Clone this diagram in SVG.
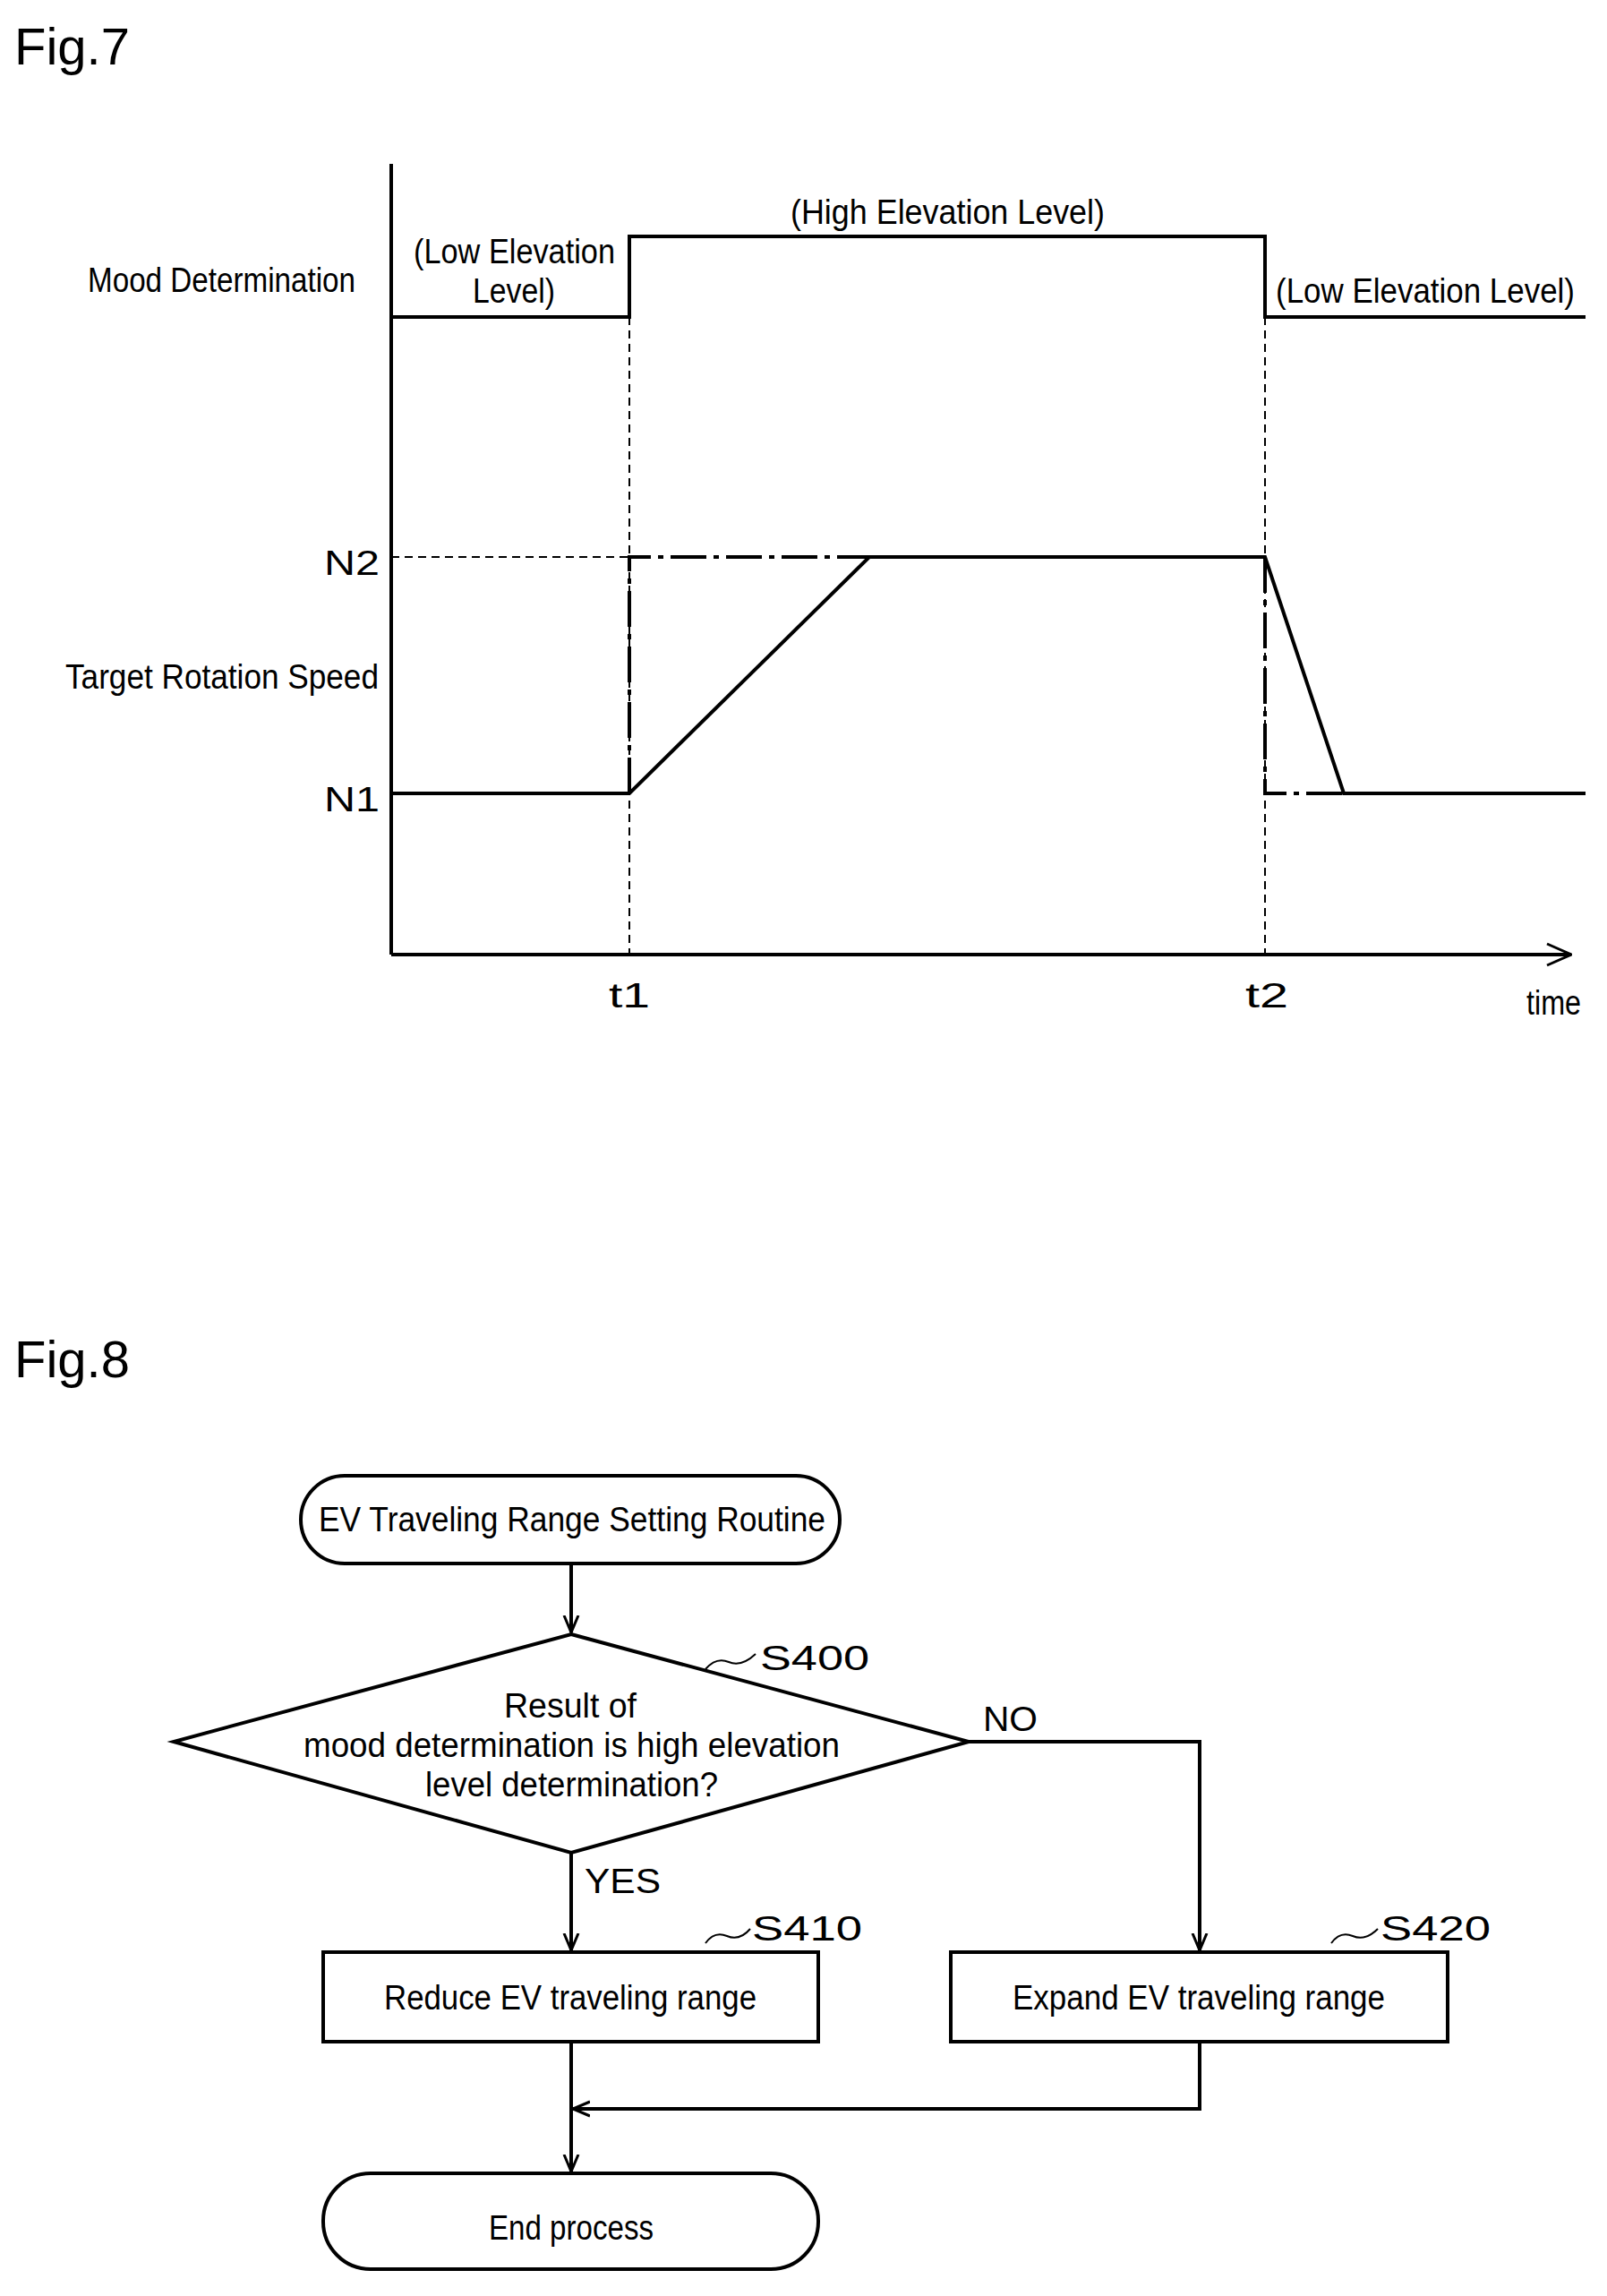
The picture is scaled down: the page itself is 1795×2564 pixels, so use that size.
<svg xmlns="http://www.w3.org/2000/svg" width="1795" height="2564" viewBox="0 0 1795 2564">
<style>
.t{font-family:"Liberation Sans",Arial,sans-serif;fill:#000}
.c{font-family:"Liberation Sans Narrow","Liberation Sans",Arial,sans-serif;fill:#000;font-size:38px}
.ln{stroke:#000;stroke-width:4;fill:none}
.th{stroke:#000;stroke-width:2;fill:none}
.ds{stroke:#000;stroke-width:2;fill:none;stroke-dasharray:9 6}
.dd{stroke:#000;stroke-width:4;fill:none;stroke-dasharray:40 8 6 8}
</style>
<defs>
<marker id="a" viewBox="0 0 20 20" refX="19" refY="10" markerWidth="20" markerHeight="20" markerUnits="userSpaceOnUse" orient="auto">
<polyline points="0,2 19,10 0,18" fill="none" stroke="#000" stroke-width="3"/>
</marker>
<marker id="b" viewBox="0 0 30 30" refX="29" refY="15" markerWidth="30" markerHeight="30" markerUnits="userSpaceOnUse" orient="auto">
<polyline points="2,3 29,15 2,27" fill="none" stroke="#000" stroke-width="3"/>
</marker>
</defs>
<rect width="1795" height="2564" fill="#fff"/>
<g id="fig7">
<text class="t" x="16" y="72" font-size="58">Fig.7</text>
<line class="ln" x1="437" y1="183" x2="437" y2="1066"/>
<line class="ln" x1="437" y1="1066" x2="1755" y2="1066" marker-end="url(#b)"/>
<polyline class="ln" points="437,354 703,354 703,264 1413,264 1413,354 1771,354"/>
<line class="ds" x1="703" y1="264" x2="703" y2="1066"/>
<line class="ds" x1="1413" y1="354" x2="1413" y2="1066"/>
<line class="ds" x1="437" y1="622" x2="703" y2="622"/>
<polyline class="dd" points="703,886 703,622 971,622"/>
<polyline class="dd" points="1413,622 1413,886 1501,886"/>
<polyline class="ln" points="437,886 703,886 971,622 1413,622 1501,886 1771,886"/>
<text class="c" x="98" y="326" textLength="299" lengthAdjust="spacingAndGlyphs">Mood Determination</text>
<text class="c" x="462" y="294" textLength="225" lengthAdjust="spacingAndGlyphs">(Low Elevation</text>
<text class="c" x="528" y="338" textLength="92" lengthAdjust="spacingAndGlyphs">Level)</text>
<text class="c" x="883" y="250" textLength="351" lengthAdjust="spacingAndGlyphs">(High Elevation Level)</text>
<text class="c" x="1425" y="338" textLength="334" lengthAdjust="spacingAndGlyphs">(Low Elevation Level)</text>
<text class="c" x="73" y="769" textLength="350" lengthAdjust="spacingAndGlyphs">Target Rotation Speed</text>
<text class="c" x="362" y="642" font-size="50" textLength="62" lengthAdjust="spacingAndGlyphs">N2</text>
<text class="c" x="362" y="906" font-size="50" textLength="62" lengthAdjust="spacingAndGlyphs">N1</text>
<text class="c" x="680" y="1125" font-size="50" textLength="46" lengthAdjust="spacingAndGlyphs">t1</text>
<text class="c" x="1391" y="1125" font-size="50" textLength="48" lengthAdjust="spacingAndGlyphs">t2</text>
<text class="c" x="1705" y="1133" textLength="61" lengthAdjust="spacingAndGlyphs">time</text>
</g>
<text class="t" x="16" y="1538" font-size="58">Fig.8</text>
<g id="start">
<rect class="ln" x="336" y="1648" width="602" height="98" rx="49"/>
<text class="c" x="356" y="1710" textLength="566" lengthAdjust="spacingAndGlyphs">EV Traveling Range Setting Routine</text>
</g>
<g id="s400">
<polygon class="ln" points="638,1825 1082,1945 638,2069 194,1945"/>
<text class="c" x="563" y="1918" textLength="148" lengthAdjust="spacingAndGlyphs">Result of</text>
<text class="c" x="339" y="1962" textLength="599" lengthAdjust="spacingAndGlyphs">mood determination is high elevation</text>
<text class="c" x="475" y="2006" textLength="327" lengthAdjust="spacingAndGlyphs">level determination?</text>
<path class="th" d="M788,1864 q12,-14 26,-8 q14,6 30,-9"/>
<text class="c" x="849" y="1865" font-size="48" textLength="122" lengthAdjust="spacingAndGlyphs">S400</text>
</g>
<g id="s410">
<rect class="ln" x="361" y="2180" width="553" height="100"/>
<text class="c" x="429" y="2244" textLength="416" lengthAdjust="spacingAndGlyphs">Reduce EV traveling range</text>
<path class="th" d="M788,2170 q10,-14 24,-8 q14,6 26,-8"/>
<text class="c" x="840" y="2167" font-size="48" textLength="123" lengthAdjust="spacingAndGlyphs">S410</text>
</g>
<g id="s420">
<rect class="ln" x="1062" y="2180" width="555" height="100"/>
<text class="c" x="1131" y="2244" textLength="416" lengthAdjust="spacingAndGlyphs">Expand EV traveling range</text>
<path class="th" d="M1487,2170 q10,-14 24,-8 q14,6 28,-8"/>
<text class="c" x="1542" y="2167" font-size="48" textLength="123" lengthAdjust="spacingAndGlyphs">S420</text>
</g>
<g id="end">
<rect class="ln" x="361" y="2427" width="553" height="107" rx="53"/>
<text class="c" x="546" y="2501" textLength="184" lengthAdjust="spacingAndGlyphs">End process</text>
</g>
<g id="connectors">
<line class="ln" x1="638" y1="1746" x2="638" y2="1823" marker-end="url(#a)"/>
<line class="ln" x1="638" y1="2069" x2="638" y2="2178" marker-end="url(#a)"/>
<polyline class="ln" points="1082,1945 1340,1945 1340,2178" marker-end="url(#a)"/>
<line class="ln" x1="638" y1="2280" x2="638" y2="2425" marker-end="url(#a)"/>
<polyline class="ln" points="1340,2280 1340,2355 640,2355" marker-end="url(#a)"/>
<text class="c" x="1098" y="1933" font-size="46" textLength="61" lengthAdjust="spacingAndGlyphs">NO</text>
<text class="c" x="653" y="2114" font-size="46" textLength="85" lengthAdjust="spacingAndGlyphs">YES</text>
</g>
</svg>
